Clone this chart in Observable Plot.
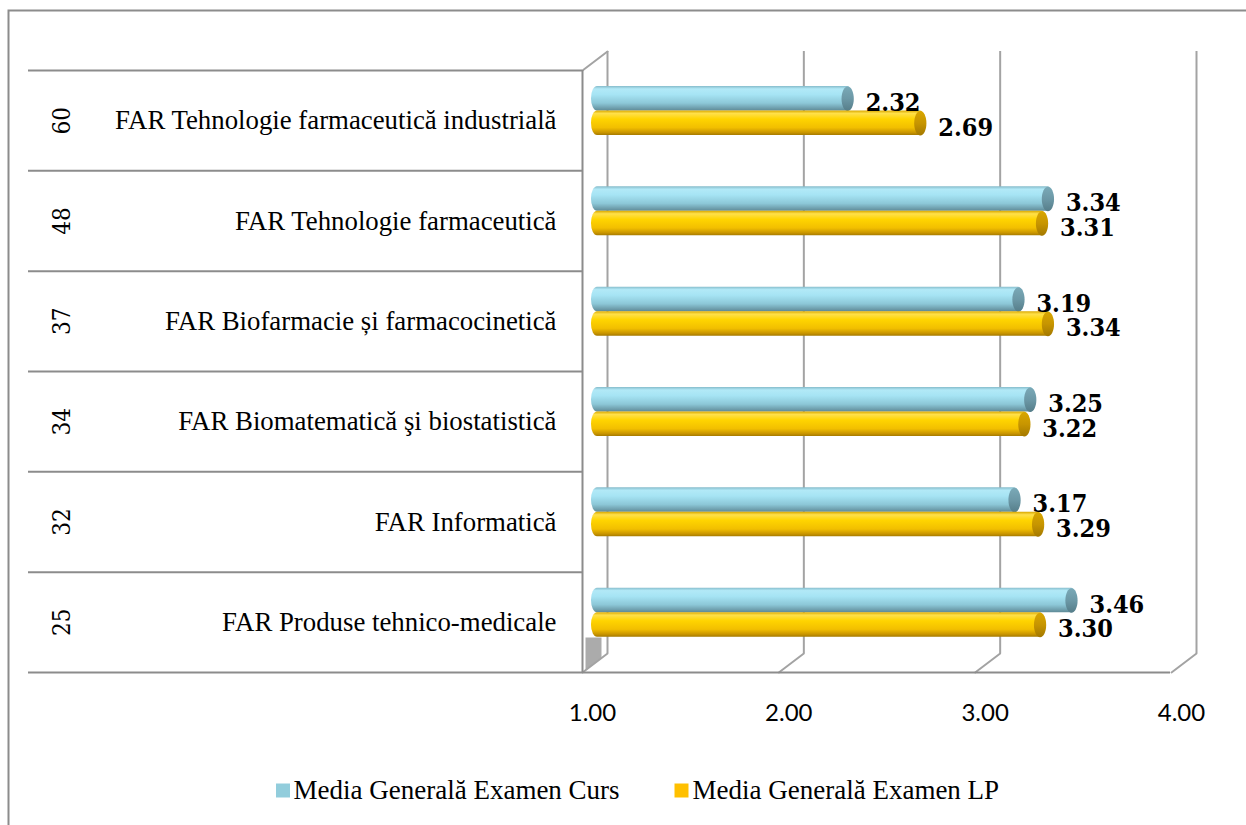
<!DOCTYPE html>
<html>
<head>
<meta charset="utf-8">
<script src="https://cdn.jsdelivr.net/npm/d3@7"></script>
<script src="https://cdn.jsdelivr.net/npm/@observablehq/plot@0.6"></script>
<style>
  html, body { margin: 0; padding: 0; background: #ffffff; }
  #chart svg { display: block; }
</style>
</head>
<body>
<div id="chart"></div>
<script>
// ---- data ----
const numbers = [60, 48, 37, 34, 32, 25];
const disciplines = [
  "FAR Tehnologie farmaceutică industrială",
  "FAR Tehnologie farmaceutică",
  "FAR Biofarmacie și farmacocinetică",
  "FAR Biomatematică şi biostatistică",
  "FAR Informatică",
  "FAR Produse tehnico-medicale"
];
const mediaCurs = [2.32, 3.34, 3.19, 3.25, 3.17, 3.46];
const mediaLP = [2.69, 3.31, 3.34, 3.22, 3.29, 3.30];
const xTicks = [1, 2, 3, 4];
const xBase = 1;
const seriesNames = ["Media Generală Examen Curs", "Media Generală Examen LP"];

// ---- tables built from the arrays ----
const rows = disciplines.map((name, i) => ({name, number: numbers[i]}));
const cursData = disciplines.map((name, i) => ({name, value: mediaCurs[i]}));
const lpData = disciplines.map((name, i) => ({name, value: mediaLP[i]}));

// ---- styling constants ----
const W = 1246, H = 825;
const mLeft = 594, mRight = 63, mTop = 70, mBottom = 153;
const band = (H - mTop - mBottom) / disciplines.length;
const gridColor = "#a3a3a3";
const lineColor = "#8c8c8c";
const serifFont = "'Liberation Serif', 'Times New Roman', serif";
const labelFont = "'DejaVu Serif Condensed', 'DejaVu Serif', serif";

// ellipse symbol for the cylinder end caps
const capSymbol = {
  draw(ctx, size) {
    const r = Math.sqrt(size / Math.PI);
    const rx = r * 0.5, ry = r, k = 0.5523;
    ctx.moveTo(rx, 0);
    ctx.bezierCurveTo(rx, k * ry, k * rx, ry, 0, ry);
    ctx.bezierCurveTo(-k * rx, ry, -rx, k * ry, -rx, 0);
    ctx.bezierCurveTo(-rx, -k * ry, -k * rx, -ry, 0, -ry);
    ctx.bezierCurveTo(k * rx, -ry, rx, -k * ry, rx, 0);
    ctx.closePath();
  }
};
const lineShape = {draw(ctx, l) { ctx.moveTo(0, 0); ctx.lineTo(0, -l); }};
// small visible part of the left side wall (below the last bar)
const wallShape = {draw(ctx) { ctx.moveTo(3, -2); ctx.lineTo(3, -35); ctx.lineTo(19, -35); ctx.lineTo(19, -15); ctx.closePath(); }};

const cursTop = 16, barH = 24.5, lpTop = 40.5;

const plot = Plot.plot({
  width: W,
  height: H,
  marginLeft: mLeft,
  marginRight: mRight,
  marginTop: mTop,
  marginBottom: mBottom,
  style: {fontFamily: serifFont, fontSize: "26px", background: "#ffffff", overflow: "visible"},
  x: {domain: [1, 4], ticks: xTicks},
  y: {domain: disciplines, padding: 0, round: false},
  marks: [
    // outer chart border
    Plot.frame({insetLeft: -(mLeft - 8), insetTop: -(mTop - 10), insetRight: -200, insetBottom: -400, stroke: lineColor, strokeWidth: 2}),
    // left side wall (visible corner)
    Plot.vector([xBase], {x: d => d, frameAnchor: "bottom", dx: -12, length: 1, anchor: "start", shape: wallShape,
      fill: "#ababab", stroke: "none"}),
    // back wall grid lines
    Plot.ruleX(xTicks, {x: d => d, dx: 13, insetTop: -19, insetBottom: 19, stroke: gridColor, strokeWidth: 2}),
    // floor diagonals
    Plot.vector(xTicks, {x: d => d, frameAnchor: "bottom", dx: -12, length: 31.4, rotate: 52.8, anchor: "start",
      shape: lineShape, stroke: gridColor, strokeWidth: 2}),
    // top-left diagonal
    Plot.vector([xBase], {x: d => d, frameAnchor: "top", dx: -12, length: 31.4, rotate: 52.8, anchor: "start",
      shape: lineShape, stroke: gridColor, strokeWidth: 2}),
    // front left vertical line
    Plot.ruleX([xBase], {x: d => d, dx: -12, stroke: lineColor, strokeWidth: 2}),
    // table row separators
    Plot.ruleY(rows, {y: "name", dy: -band / 2, insetLeft: -(mLeft - 28), insetRight: (W - mRight) - 582, stroke: lineColor, strokeWidth: 2}),
    // bottom floor / table line
    Plot.ruleY([disciplines[disciplines.length - 1]], {y: d => d, dy: band / 2, insetLeft: -(mLeft - 28), insetRight: 13, stroke: lineColor, strokeWidth: 2}),
    // bars: Curs
    Plot.barX(cursData, {y: "name", x1: () => xBase, x2: "value", insetTop: cursTop, insetBottom: band - cursTop - barH,
      insetLeft: -3, rx: 6, ry: 12, fill: "url(#gradCurs)"}),
    Plot.dot(cursData, {y: "name", x: "value", dx: -6, dy: cursTop + barH / 2 - band / 2, r: 12.25, symbol: capSymbol,
      fill: "url(#gradCursCap)", stroke: "none"}),
    // bars: LP
    Plot.barX(lpData, {y: "name", x1: () => xBase, x2: "value", insetTop: lpTop, insetBottom: band - lpTop - barH,
      insetLeft: -3, rx: 6, ry: 12, fill: "url(#gradLP)"}),
    Plot.dot(lpData, {y: "name", x: "value", dx: -6, dy: lpTop + barH / 2 - band / 2, r: 12.25, symbol: capSymbol,
      fill: "url(#gradLPCap)", stroke: "none"}),
    // value labels
    Plot.text(cursData, {y: "name", x: "value", text: d => d.value.toFixed(2), dx: 12, dy: cursTop + barH - band / 2,
      textAnchor: "start", lineAnchor: "bottom", fontFamily: labelFont, fontWeight: "bold", fontSize: 25, fill: "#000"}),
    Plot.text(lpData, {y: "name", x: "value", text: d => d.value.toFixed(2), dx: 12, dy: lpTop + barH - band / 2,
      textAnchor: "start", lineAnchor: "bottom", fontFamily: labelFont, fontWeight: "bold", fontSize: 25, fill: "#000"}),
    // category axis (names)
    Plot.axisY({tickSize: 0, tickPadding: 38, label: null, fontSize: 26.8, fontFamily: serifFont, fill: "#000"}),
    // numbers column (rotated)
    Plot.text(rows, {y: "name", text: d => String(d.number), frameAnchor: "left", dx: 62 - mLeft, rotate: -90,
      textAnchor: "middle", lineAnchor: "middle", fontSize: 24, fontFamily: labelFont, fill: "#000"}),
    // value axis
    Plot.axisX({ticks: xTicks, tickFormat: d3.format(".2f"), tickSize: 0, tickPadding: 31, dx: -2, label: null,
      fontSize: 24, fontFamily: "Lato, 'Open Sans', sans-serif", fill: "#000"}),
    // legend
    Plot.dot([seriesNames[0]], {frameAnchor: "bottom-left", dx: 282.5 - mLeft, dy: 118, symbol: "square", r: 7.9, fill: "#92CDDC"}),
    Plot.text([seriesNames[0]], {frameAnchor: "bottom-left", text: d => d, dx: 293 - mLeft, dy: 126, textAnchor: "start",
      lineAnchor: "bottom", fontSize: 27, fontFamily: serifFont, fill: "#000"}),
    Plot.dot([seriesNames[1]], {frameAnchor: "bottom-left", dx: 681 - mLeft, dy: 118, symbol: "square", r: 7.9, fill: "#FFC000"}),
    Plot.text([seriesNames[1]], {frameAnchor: "bottom-left", text: d => d, dx: 692 - mLeft, dy: 126, textAnchor: "start",
      lineAnchor: "bottom", fontSize: 27, fontFamily: serifFont, fill: "#000"})
  ]
});

// gradients for the cylinder look
const defs = d3.select(plot).insert("defs", ":first-child");
function grad(id, stops) {
  const g = defs.append("linearGradient").attr("id", id).attr("x1", 0).attr("y1", 0).attr("x2", 0).attr("y2", 1);
  stops.forEach(([o, c]) => g.append("stop").attr("offset", o).attr("stop-color", c));
}
grad("gradCurs", [[0, "#86bccb"], [0.12, "#b2e9f7"], [0.35, "#a6e4f4"], [0.7, "#8cc7d7"], [0.9, "#6f9fad"], [1, "#5e8a97"]]);
grad("gradCursCap", [[0, "#7aa9b7"], [0.5, "#6c98a6"], [1, "#557d89"]]);
grad("gradLP", [[0, "#d9a800"], [0.12, "#ffe04a"], [0.35, "#ffd400"], [0.7, "#f2bf00"], [0.9, "#c99500"], [1, "#a57a00"]]);
grad("gradLPCap", [[0, "#d8a600"], [0.5, "#c79500"], [1, "#a37800"]]);

document.getElementById("chart").appendChild(plot);
</script>
</body>
</html>
